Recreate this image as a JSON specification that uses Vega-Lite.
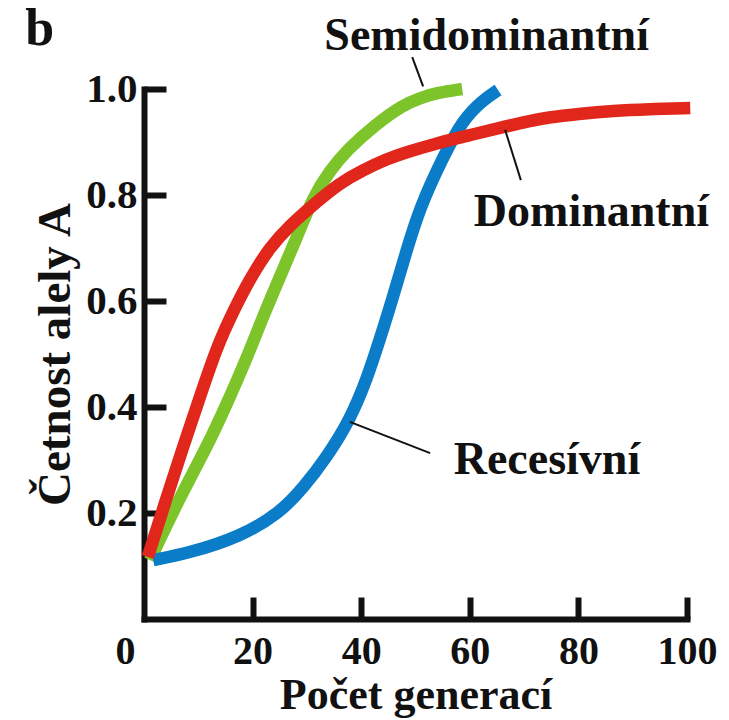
{
  "$schema": "https://vega.github.io/schema/vega-lite/v6.json",
  "width": 543,
  "height": 530,
  "autosize": "none",
  "padding": {"left": 144, "top": 89, "right": 42, "bottom": 101},
  "background": "white",
  "config": {"view": {"stroke": null}, "font": "Liberation Serif"},
  "datasets": {
    "curves": [
      {"type": "Semidominantní", "generation": 1.1, "frequency": 0.111},
      {"type": "Semidominantní", "generation": 6.6, "frequency": 0.230},
      {"type": "Semidominantní", "generation": 11.6, "frequency": 0.325},
      {"type": "Semidominantní", "generation": 15.3, "frequency": 0.407},
      {"type": "Semidominantní", "generation": 19.0, "frequency": 0.494},
      {"type": "Semidominantní", "generation": 21.7, "frequency": 0.565},
      {"type": "Semidominantní", "generation": 25.0, "frequency": 0.645},
      {"type": "Semidominantní", "generation": 28.2, "frequency": 0.721},
      {"type": "Semidominantní", "generation": 31.1, "frequency": 0.796},
      {"type": "Semidominantní", "generation": 34.3, "frequency": 0.847},
      {"type": "Semidominantní", "generation": 37.4, "frequency": 0.885},
      {"type": "Semidominantní", "generation": 42.5, "frequency": 0.932},
      {"type": "Semidominantní", "generation": 47.7, "frequency": 0.970},
      {"type": "Semidominantní", "generation": 50.8, "frequency": 0.983},
      {"type": "Semidominantní", "generation": 54.0, "frequency": 0.993},
      {"type": "Semidominantní", "generation": 58.6, "frequency": 1.0},
      {"type": "Recesívní", "generation": 1.7, "frequency": 0.111},
      {"type": "Recesívní", "generation": 8.5, "frequency": 0.125},
      {"type": "Recesívní", "generation": 17.7, "frequency": 0.155},
      {"type": "Recesívní", "generation": 25.0, "frequency": 0.200},
      {"type": "Recesívní", "generation": 29.3, "frequency": 0.247},
      {"type": "Recesívní", "generation": 33.7, "frequency": 0.306},
      {"type": "Recesívní", "generation": 37.9, "frequency": 0.375},
      {"type": "Recesívní", "generation": 41.0, "frequency": 0.451},
      {"type": "Recesívní", "generation": 43.5, "frequency": 0.530},
      {"type": "Recesívní", "generation": 45.7, "frequency": 0.602},
      {"type": "Recesívní", "generation": 48.2, "frequency": 0.690},
      {"type": "Recesívní", "generation": 50.8, "frequency": 0.777},
      {"type": "Recesívní", "generation": 55.1, "frequency": 0.872},
      {"type": "Recesívní", "generation": 58.7, "frequency": 0.942},
      {"type": "Recesívní", "generation": 62.4, "frequency": 0.979},
      {"type": "Recesívní", "generation": 65.2, "frequency": 0.998},
      {"type": "Dominantní", "generation": 0.7, "frequency": 0.117},
      {"type": "Dominantní", "generation": 4.2, "frequency": 0.230},
      {"type": "Dominantní", "generation": 7.2, "frequency": 0.325},
      {"type": "Dominantní", "generation": 10.3, "frequency": 0.419},
      {"type": "Dominantní", "generation": 13.4, "frequency": 0.513},
      {"type": "Dominantní", "generation": 16.4, "frequency": 0.580},
      {"type": "Dominantní", "generation": 19.5, "frequency": 0.642},
      {"type": "Dominantní", "generation": 23.2, "frequency": 0.702},
      {"type": "Dominantní", "generation": 26.9, "frequency": 0.743},
      {"type": "Dominantní", "generation": 31.1, "frequency": 0.781},
      {"type": "Dominantní", "generation": 36.1, "frequency": 0.823},
      {"type": "Dominantní", "generation": 40.3, "frequency": 0.847},
      {"type": "Dominantní", "generation": 44.8, "frequency": 0.868},
      {"type": "Dominantní", "generation": 47.7, "frequency": 0.879},
      {"type": "Dominantní", "generation": 54.0, "frequency": 0.898},
      {"type": "Dominantní", "generation": 60.0, "frequency": 0.913},
      {"type": "Dominantní", "generation": 66.1, "frequency": 0.928},
      {"type": "Dominantní", "generation": 71.1, "frequency": 0.940},
      {"type": "Dominantní", "generation": 74.2, "frequency": 0.946},
      {"type": "Dominantní", "generation": 80.0, "frequency": 0.953},
      {"type": "Dominantní", "generation": 86.4, "frequency": 0.959},
      {"type": "Dominantní", "generation": 93.0, "frequency": 0.962},
      {"type": "Dominantní", "generation": 100.6, "frequency": 0.964}
    ],
    "labels": [
      {"label": "Semidominantní", "x": 63.1, "y": 1.074},
      {"label": "Dominantní", "x": 82.4, "y": 0.742},
      {"label": "Recesívní", "x": 74.2, "y": 0.274}
    ],
    "panel": [
      {"label": "b", "x": -19.2, "y": 1.083}
    ],
    "leaders": [
      {"x1": 49.4, "y1": 1.06, "x2": 51.4, "y2": 1.005},
      {"x1": 66.5, "y1": 0.923, "x2": 69.4, "y2": 0.828},
      {"x1": 37.9, "y1": 0.372, "x2": 52.7, "y2": 0.313}
    ]
  },
  "layer": [
    {
      "data": {"name": "curves"},
      "mark": {"type": "line", "strokeWidth": 12.5, "interpolate": "basis", "strokeCap": "butt", "strokeJoin": "round"},
      "encoding": {
        "x": {
          "field": "generation", "type": "quantitative",
          "scale": {"domain": [0, 100], "nice": false, "zero": false},
          "axis": {
            "values": [0, 20, 40, 60, 80, 100],
            "title": "Počet generací",
            "grid": false,
            "domainColor": "#111111", "domainWidth": 6, "domainCap": "square",
            "tickColor": "#111111", "tickWidth": 6, "tickSize": -22,
            "tickOpacity": {"condition": {"test": "datum.value == 0", "value": 0}, "value": 1},
            "labelFont": "Liberation Serif", "labelFontSize": 40, "labelFontWeight": "bold", "labelColor": "#111111",
            "labelPadding": 34, "labelFlush": false, "labelOverlap": false, "labelBound": false,
            "labelOffset": {"condition": {"test": "datum.value == 0", "value": -19}, "value": 0},
            "titleFont": "Liberation Serif", "titleFontSize": 44, "titleFontWeight": "bold", "titleColor": "#111111",
            "titlePadding": 2
          }
        },
        "y": {
          "field": "frequency", "type": "quantitative",
          "scale": {"domain": [0, 1], "nice": false},
          "axis": {
            "values": [0.2, 0.4, 0.6, 0.8, 1.0],
            "format": ".1f",
            "title": "Četnost alely A",
            "grid": false,
            "domainColor": "#111111", "domainWidth": 6, "domainCap": "square",
            "tickColor": "#111111", "tickWidth": 6, "tickSize": -22,
            "labelFont": "Liberation Serif", "labelFontSize": 41, "labelFontWeight": "bold", "labelColor": "#111111",
            "labelPadding": 29, "labelFlush": false, "labelOverlap": false, "labelBound": false,
            "titleFont": "Liberation Serif", "titleFontSize": 47, "titleFontWeight": "bold", "titleColor": "#111111",
            "titlePadding": 6
          }
        },
        "color": {
          "field": "type", "type": "nominal",
          "scale": {"domain": ["Semidominantní", "Recesívní", "Dominantní"], "range": ["#7DC42B", "#0A7CC8", "#E1261C"]},
          "legend": null
        },
        "order": {"field": "generation", "type": "quantitative"}
      }
    },
    {
      "data": {"name": "leaders"},
      "mark": {"type": "rule", "strokeWidth": 2, "color": "#111111"},
      "encoding": {
        "x": {"field": "x1", "type": "quantitative"},
        "y": {"field": "y1", "type": "quantitative"},
        "x2": {"field": "x2"},
        "y2": {"field": "y2"}
      }
    },
    {
      "data": {"name": "labels"},
      "mark": {"type": "text", "fontSize": 46, "fontWeight": "bold", "font": "Liberation Serif", "color": "#111111", "align": "center", "baseline": "alphabetic"},
      "encoding": {
        "x": {"field": "x", "type": "quantitative"},
        "y": {"field": "y", "type": "quantitative"},
        "text": {"field": "label"}
      }
    },
    {
      "data": {"name": "panel"},
      "mark": {"type": "text", "fontSize": 52, "fontWeight": "bold", "font": "Liberation Serif", "color": "#111111", "align": "center", "baseline": "alphabetic"},
      "encoding": {
        "x": {"field": "x", "type": "quantitative"},
        "y": {"field": "y", "type": "quantitative"},
        "text": {"field": "label"}
      }
    }
  ]
}
